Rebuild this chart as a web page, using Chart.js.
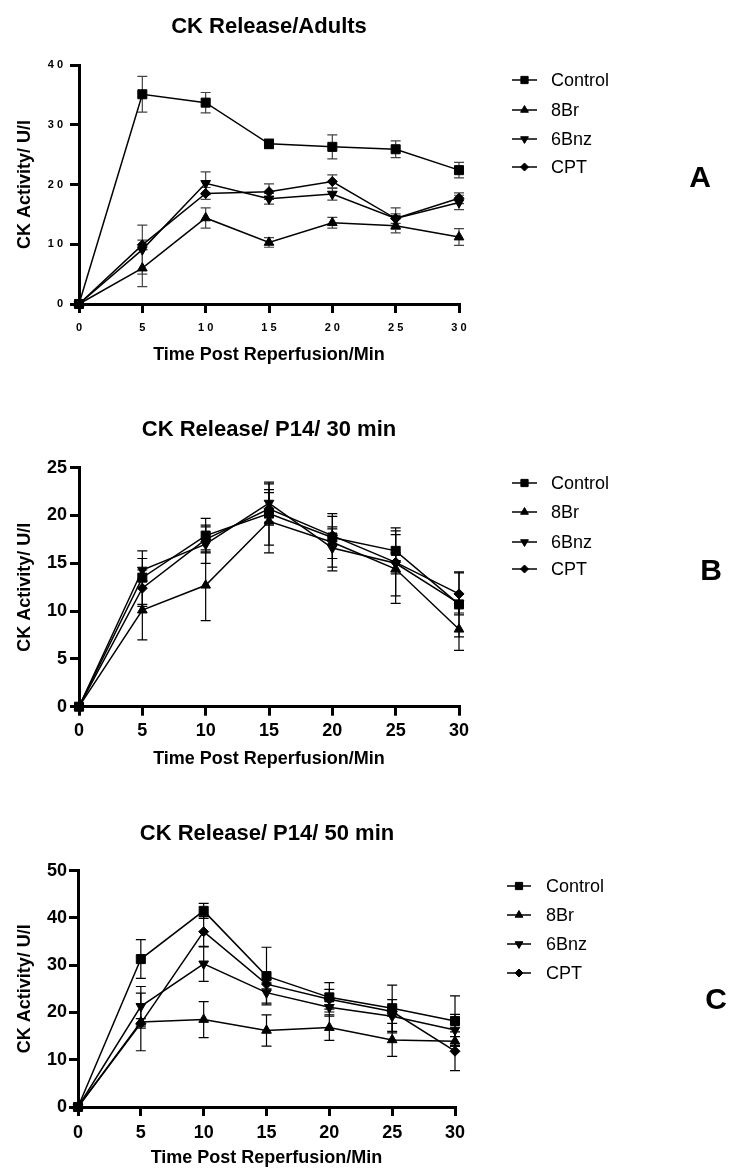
<!DOCTYPE html>
<html>
<head>
<meta charset="utf-8">
<script src="https://cdn.jsdelivr.net/npm/chart.js@4.4.1/dist/chart.umd.min.js"></script>
<style>
  html, body { margin: 0; padding: 0; background: #fff; }
  #wrap { position: relative; width: 737px; height: 1174px; }
  canvas { position: absolute; left: 0; }
</style>
</head>
<body>
<div id="wrap">
  <canvas id="chartA" width="737" height="390" style="top:0px"></canvas>
  <canvas id="chartB" width="737" height="390" style="top:390px"></canvas>
  <canvas id="chartC" width="737" height="394" style="top:780px"></canvas>
</div>
<script>
// Tiempos (min) y grupos
const TIMES = [0, 5, 10, 15, 20, 25, 30];
const GROUPS = ["Control", "8Br", "6Bnz", "CPT"];

// Panel A - adultos
const A_CONTROL = [0, 35.1, 33.7, 26.8, 26.3, 25.9, 22.4];
const A_8BR     = [0, 6.0, 14.4, 10.3, 13.6, 13.1, 11.2];
const A_6BNZ    = [0, 9.1, 20.2, 17.6, 18.4, 14.3, 17.0];
const A_CPT     = [0, 9.9, 18.5, 18.8, 20.5, 14.3, 17.7];
const A_CONTROL_ERR = [0, 3.0, 1.7, 0.8, 2.0, 1.4, 1.3];
const A_8BR_ERR     = [0, 3.1, 1.7, 0.8, 0.9, 1.2, 1.4];
const A_6BNZ_ERR    = [0, 4.1, 1.9, 0.9, 1.0, 1.8, 1.2];
const A_CPT_ERR     = [0, 0.8, 1.0, 1.3, 1.1, 0.8, 0.9];

// Panel B - P14 30 min
const B_CONTROL = [0, 13.5, 17.9, 20.2, 17.7, 16.3, 10.7];
const B_8BR     = [0, 10.1, 12.7, 19.4, 17.2, 14.4, 8.1];
const B_6BNZ    = [0, 14.3, 17.0, 21.3, 16.6, 15.0, 10.8];
const B_CPT     = [0, 12.4, 17.5, 20.7, 17.9, 15.1, 11.8];
const B_CONTROL_ERR = [0, 2.8, 1.8, 3.3, 2.2, 2.4, 3.4];
const B_8BR_ERR     = [0, 3.1, 3.7, 3.3, 3.0, 3.6, 2.2];
const B_6BNZ_ERR    = [0, 1.2, 2.0, 2.0, 2.0, 3.4, 1.0];
const B_CPT_ERR     = [0, 1.9, 1.3, 1.7, 0.9, 1.0, 2.2];

// Panel C - P14 50 min
const C_CONTROL = [0, 31.3, 41.5, 27.7, 23.2, 20.9, 18.2];
const C_8BR     = [0, 18.0, 18.5, 16.2, 16.8, 14.2, 13.9];
const C_6BNZ    = [0, 21.3, 30.3, 24.2, 21.1, 19.2, 16.3];
const C_CPT     = [0, 17.7, 37.1, 26.0, 22.8, 20.2, 11.8];
const C_CONTROL_ERR = [0, 4.1, 1.6, 6.1, 3.1, 4.9, 5.3];
const C_8BR_ERR     = [0, 6.1, 3.8, 3.3, 2.7, 3.5, 1.0];
const C_6BNZ_ERR    = [0, 4.2, 3.7, 2.2, 1.9, 3.5, 3.3];
const C_CPT_ERR     = [0, 1.0, 3.2, 1.0, 2.1, 1.0, 4.1];

const FONT = "'Liberation Sans', Arial, sans-serif";
Chart.defaults.font.family = FONT;
Chart.defaults.color = "#000";

const MARKERS = [
  { pointStyle: "rect", radius: 6.4, rotation: 0 },
  { pointStyle: "triangle", radius: 5.6, rotation: 0 },
  { pointStyle: "triangle", radius: 5.6, rotation: 180 },
  { pointStyle: "rectRot", radius: 5, rotation: 0 },
];

// barras de error (media ± error) dibujadas con la escala Y
const errorBars = {
  id: "errorBars",
  beforeDatasetsDraw(chart, args, opts) {
    const { ctx } = chart;
    const y = chart.scales.y;
    ctx.save();
    ctx.strokeStyle = opts.color;
    ctx.lineWidth = opts.width;
    opts.errors.forEach((errs, di) => {
      const meta = chart.getDatasetMeta(di);
      const vals = chart.data.datasets[di].data;
      meta.data.forEach((pt, i) => {
        const e = errs[i];
        if (!e) return;
        const yt = y.getPixelForValue(vals[i].y + e);
        const yb = y.getPixelForValue(vals[i].y - e);
        ctx.beginPath();
        ctx.moveTo(pt.x, yt); ctx.lineTo(pt.x, yb);
        ctx.moveTo(pt.x - opts.cap, yt); ctx.lineTo(pt.x + opts.cap, yt);
        ctx.moveTo(pt.x - opts.cap, yb); ctx.lineTo(pt.x + opts.cap, yb);
        ctx.stroke();
      });
    });
    ctx.restore();
  },
};

// título, leyenda y letra del panel
const panelDecor = {
  id: "panelDecor",
  afterDraw(chart, args, o) {
    const { ctx } = chart;
    ctx.save();
    ctx.fillStyle = "#000";
    ctx.textBaseline = "middle";
    ctx.textAlign = "center";
    ctx.font = "bold 22px " + FONT;
    ctx.fillText(o.title, o.titleX, o.titleY);

    chart.data.datasets.forEach((ds, i) => {
      const ry = o.legendY[i];
      ctx.strokeStyle = "#000";
      ctx.lineWidth = 1.5;
      ctx.beginPath();
      ctx.moveTo(o.lineX[0], ry); ctx.lineTo(o.lineX[1], ry);
      ctx.stroke();
      const m = MARKERS[i];
      ctx.fillStyle = "#000";
      ctx.lineWidth = 1;
      Chart.helpers.drawPoint(ctx, { pointStyle: m.pointStyle, rotation: m.rotation, radius: m.radius * 0.8, borderWidth: 1 },
        (o.lineX[0] + o.lineX[1]) / 2, ry);
      ctx.textAlign = "left";
      ctx.font = "18px " + FONT;
      ctx.fillText(ds.label, o.textX, ry + 1);
    });

    ctx.textAlign = "center";
    ctx.font = "bold 30px " + FONT;
    ctx.fillText(o.letter, o.letterX, o.letterY);
    ctx.restore();
  },
};

function buildDatasets(series) {
  return series.map((vals, i) => ({
    label: GROUPS[i],
    data: TIMES.map((t, j) => ({ x: t, y: vals[j] })),
    borderColor: "#000",
    borderWidth: 1.5,
    backgroundColor: "#000",
    pointStyle: MARKERS[i].pointStyle,
    pointRotation: MARKERS[i].rotation,
    pointRadius: MARKERS[i].radius,
    pointBorderWidth: 1,
    pointBorderColor: "#000",
    pointBackgroundColor: "#000",
    tension: 0,
    clip: false,
  }));
}

function makePanel(id, p) {
  const spaced = (v) => String(v).split("").join(" ");
  const fmt = p.spacedTicks ? spaced : (v) => String(v);
  const axisCommon = {
    border: { display: true, color: "#000", width: 3 },
    grid: { display: true, drawOnChartArea: false, drawTicks: true, tickLength: 9, lineWidth: 3, color: "#000" },
  };
  return new Chart(document.getElementById(id), {
    type: "line",
    data: { datasets: buildDatasets(p.series) },
    options: {
      responsive: false,
      devicePixelRatio: 1,
      animation: false,
      events: [],
      layout: { padding: { top: p.top, right: 737 - p.right, left: 0, bottom: 0 } },
      plugins: {
        legend: { display: false },
        tooltip: { enabled: false },
        errorBars: { errors: p.errors, color: p.errColor, width: 1.2, cap: 5 },
        panelDecor: p.decor,
      },
      scales: {
        x: {
          type: "linear",
          min: 0, max: 30,
          ...axisCommon,
          ticks: { stepSize: 5, color: "#000", padding: p.xPad, font: { size: p.tickSize, weight: "bold" }, callback: fmt },
          title: { display: true, text: "Time Post Reperfusion/Min", color: "#000", font: { size: 18, weight: "bold" }, padding: { top: 0, bottom: p.xTitlePad } },
          afterFit: (s) => { s.height = p.h - p.bottom; },
        },
        y: {
          min: 0, max: p.yMax,
          ...axisCommon,
          ticks: { stepSize: p.yStep, color: "#000", padding: p.yPad, font: { size: p.tickSize, weight: "bold" }, callback: fmt },
          title: { display: true, text: "CK Activity/ U/l", color: "#000", font: { size: 18, weight: "bold" }, padding: { top: 14, bottom: 0 } },
          afterFit: (s) => { s.width = p.left; },
        },
      },
    },
    plugins: [errorBars, panelDecor],
  });
}

makePanel("chartA", {
  h: 390, top: 65, bottom: 304, left: 79, right: 459,
  yMax: 40, yStep: 10, tickSize: 11, spacedTicks: true, xPad: 8, yPad: 7, xTitlePad: 24,
  series: [A_CONTROL, A_8BR, A_6BNZ, A_CPT],
  errors: [A_CONTROL_ERR, A_8BR_ERR, A_6BNZ_ERR, A_CPT_ERR],
  errColor: "#444",
  decor: { title: "CK Release/Adults", titleX: 269, titleY: 27,
    legendY: [80, 110, 139, 167], lineX: [512, 537], textX: 551,
    letter: "A", letterX: 700, letterY: 179 },
});

makePanel("chartB", {
  h: 390, top: 77.7, bottom: 316.7, left: 79, right: 459,
  yMax: 25, yStep: 5, tickSize: 18, spacedTicks: false, xPad: 5, yPad: 3, xTitlePad: 10,
  series: [B_CONTROL, B_8BR, B_6BNZ, B_CPT],
  errors: [B_CONTROL_ERR, B_8BR_ERR, B_6BNZ_ERR, B_CPT_ERR],
  errColor: "#000",
  decor: { title: "CK Release/ P14/ 30 min", titleX: 269, titleY: 40,
    legendY: [93, 122, 152, 179], lineX: [512, 537], textX: 551,
    letter: "B", letterX: 711, letterY: 182 },
});

makePanel("chartC", {
  h: 394, top: 90.7, bottom: 327, left: 78, right: 455,
  yMax: 50, yStep: 10, tickSize: 18, spacedTicks: false, xPad: 6, yPad: 2, xTitlePad: 5,
  series: [C_CONTROL, C_8BR, C_6BNZ, C_CPT],
  errors: [C_CONTROL_ERR, C_8BR_ERR, C_6BNZ_ERR, C_CPT_ERR],
  errColor: "#000",
  decor: { title: "CK Release/ P14/ 50 min", titleX: 267, titleY: 54,
    legendY: [106, 135, 164, 193], lineX: [507, 531], textX: 546,
    letter: "C", letterX: 716, letterY: 221 },
});
</script>
</body>
</html>
